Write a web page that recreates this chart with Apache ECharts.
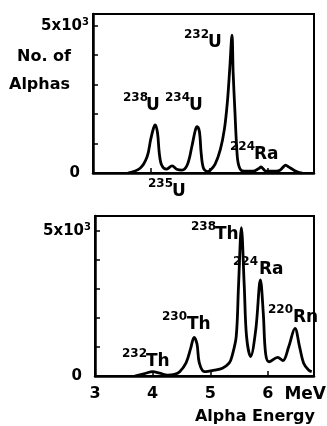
<!DOCTYPE html>
<html><head><meta charset="utf-8">
<script src="https://cdn.jsdelivr.net/npm/echarts@6/dist/echarts.min.js"></script>
<style>html,body{margin:0;padding:0;background:#fff}#c{width:327px;height:426px}</style>
</head><body><div id="c"></div>
<script>
// Uranium spectrum (top panel): energy in MeV, counts
const uEnergy = [3.60,3.81,3.93,3.99,4.04,4.07,4.11,4.14,4.18,4.26,4.36,4.44,4.53,4.62,4.70,4.76,4.79,4.83,4.86,4.90,4.97,5.02,5.10,5.19,5.26,5.31,5.35,5.39,5.41,5.44,5.47,5.50,5.57,5.75,5.85,5.89,5.93,5.98,6.10,6.20,6.27,6.31,6.37,6.45,6.55,6.60];
const uCounts = [0,160,550,1120,1520,1630,1350,670,270,130,240,130,100,270,900,1460,1570,1400,670,160,50,100,300,800,1500,2400,3500,4680,3400,2100,900,300,70,60,150,210,130,60,60,80,200,270,200,100,10,0];
// Thorium spectrum (bottom panel)
const thEnergy = [3.69,3.86,4.00,4.12,4.26,4.38,4.47,4.58,4.66,4.72,4.77,4.81,4.90,5.07,5.21,5.33,5.38,5.45,5.49,5.54,5.59,5.63,5.70,5.79,5.87,5.92,5.96,6.02,6.17,6.26,6.36,6.47,6.55,6.62,6.71,6.76];
const thCounts = [0,80,150,100,30,60,150,450,950,1330,1100,450,150,200,270,450,700,1350,3080,5100,3080,1350,670,1600,3300,2160,780,490,640,530,1000,1640,1000,440,200,150];
const xTickLabels = {3:'3',4:'4',5:'5',6:'6'};
const topLabels = [['238','U'],['234','U'],['232','U'],['224','Ra'],['235','U']];
const botLabels = [['238','Th'],['224','Ra'],['220','Rn'],['230','Th'],['232','Th']];

// layout (pixel positions of annotations): [supLeft, mainLeft, mainCenterY]
const topPos = [[123,146,106],[165,189,106],[184,208,43],[230,254,155],[148,172,192]];
const botPos = [[191,215,235],[233,259,270],[268,293,318],[162,187,325],[122,146,362]];

const FF = 'DejaVu Sans';
const chart = echarts.init(document.getElementById('c'), null, {renderer:'canvas'});
const toPts = (xs, ys) => xs.map((e,i)=>[e, ys[i]]);

function yAxisCfg(gi, max){
  return {
    type:'value', gridIndex:gi, min:0, max:max, interval:1000,
    axisLine:{show:true, lineStyle:{color:'#000', width:2.5}},
    axisTick:{show:true, inside:true, length:5, lineStyle:{color:'#000', width:1.5}},
    splitLine:{show:false},
    axisLabel:{
      margin:4,
      formatter: v => v===5000 ? '{n|5x10}{s|3}' : (v===0 ? '{z|0}' : ''),
      rich:{
        n:{fontFamily:FF, fontWeight:'bold', fontSize:15, color:'#000', lineHeight:16, verticalAlign:'bottom'},
        s:{fontFamily:FF, fontWeight:'bold', fontSize:10, color:'#000', lineHeight:10, verticalAlign:'top'},
        z:{fontFamily:FF, fontWeight:'bold', fontSize:15, color:'#000', padding:[0,9,0,0]}
      }
    }
  };
}
function xAxisCfg(gi, showLabels){
  return {
    type:'value', gridIndex:gi, min:3, max:6.8, interval:1,
    axisLine:{show:true, lineStyle:{color:'#000', width:2.5}},
    axisTick:{show:true, inside:true, length:5, lineStyle:{color:'#000', width:1.5}},
    splitLine:{show:false},
    axisLabel:{show:showLabels, margin:10, color:'#000', fontFamily:FF, fontWeight:'bold', fontSize:16,
      formatter: v => xTickLabels[v] || ''},
    name: showLabels ? 'Alpha Energy' : '',
    nameLocation:'end', nameGap:1,
    nameTextStyle:{fontFamily:FF, fontWeight:'bold', fontSize:16, color:'#000', align:'right', verticalAlign:'top', padding:[33,0,0,0]}
  };
}

const graphics = [];
function addLabels(labels, pos){
  labels.forEach((l,i)=>{
    const p = pos[i];
    graphics.push({type:'text', x:p[0], y:p[2]-8, style:{text:l[0], fontFamily:FF, fontWeight:'bold', fontSize:12, fill:'#000', align:'left', verticalAlign:'middle'}, z:10});
    graphics.push({type:'text', x:p[1], y:p[2], style:{text:l[1], fontFamily:FF, fontWeight:'bold', fontSize:17, fill:'#000', align:'left', verticalAlign:'middle'}, z:10});
  });
}
addLabels(topLabels, topPos);
addLabels(botLabels, botPos);
graphics.push({type:'text', x:17, y:57, style:{text:'No. of', fontFamily:FF, fontWeight:'bold', fontSize:16, fill:'#000', align:'left', verticalAlign:'middle'}});
graphics.push({type:'text', x:9, y:85, style:{text:'Alphas', fontFamily:FF, fontWeight:'bold', fontSize:16, fill:'#000', align:'left', verticalAlign:'middle'}});
graphics.push({type:'text', x:326, y:395, style:{text:'MeV', fontFamily:FF, fontWeight:'bold', fontSize:17, fill:'#000', align:'right', verticalAlign:'middle'}});

chart.setOption({
  animation:false,
  backgroundColor:'#fff',
  grid:[
    {left:93, top:14, width:221, height:159, show:true, borderColor:'#000', borderWidth:2},
    {left:95, top:216, width:219, height:160, show:true, borderColor:'#000', borderWidth:2}
  ],
  xAxis:[xAxisCfg(0,false), xAxisCfg(1,true)],
  yAxis:[yAxisCfg(0,5400), yAxisCfg(1,5500)],
  series:[
    {type:'line', xAxisIndex:0, yAxisIndex:0, data:toPts(uEnergy,uCounts), showSymbol:false, smooth:0.35, lineStyle:{color:'#000', width:2.8}},
    {type:'line', xAxisIndex:1, yAxisIndex:1, data:toPts(thEnergy,thCounts), showSymbol:false, smooth:0.35, lineStyle:{color:'#000', width:2.8}}
  ],
  graphic: graphics
});
</script></body></html>
